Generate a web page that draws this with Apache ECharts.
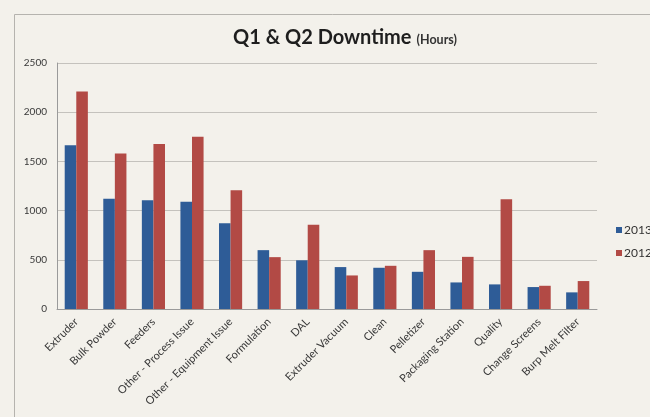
<!DOCTYPE html>
<html>
<head>
<meta charset="utf-8">
<script src="https://cdn.jsdelivr.net/npm/echarts@6/dist/echarts.min.js"></script>
<style>
html,body{margin:0;padding:0;background:#f3f1eb;}
#chart{width:650px;height:417px;}
</style>
</head>
<body>
<div id="chart"></div>
<script>
const categories = ["Extruder","Bulk Powder","Feeders","Other - Process Issue","Other - Equipment Issue","Formulation","DAL","Extruder Vacuum","Clean","Pelletizer","Packaging Station","Quality","Change Screens","Burp Melt Filter"];
const values2013 = [1665,1120,1105,1090,872,598,495,426,419,378,270,250,223,169];
const values2012 = [2210,1580,1678,1750,1206,527,855,341,439,598,530,1115,236,284];
const yTicks = [0,500,1000,1500,2000,2500];

const chart = echarts.init(document.getElementById('chart'), null, {renderer:'canvas'});
chart.setOption({
  backgroundColor: '#f3f1eb',
  animation: false,
  graphic: [{
    type: 'rect', left: 12, top: 12,
    shape: {width: 700, height: 500},
    style: {fill: 'none', stroke: '#b5b3ae', lineWidth: 1}
  }],
  title: {
    text: '{a|Q1 & Q2 Downtime} {b|(Hours)}',
    left: 340, textAlign: 'center', top: 23,
    textStyle: {
      rich: {
        a: {fontFamily: 'Lato', fontWeight: 'bold', fontSize: 20, color: '#1e1e1e'},
        b: {fontFamily: 'Lato', fontSize: 12.5, color: '#333', padding: [4,0,0,0]}
      }
    }
  },
  legend: {
    orient: 'vertical', left: 611, top: 219,
    itemWidth: 6, itemHeight: 6, itemGap: 11, icon: 'rect',
    textStyle: {fontFamily: 'Lato', fontSize: 12, color: '#333', padding: [0,0,0,-3]},
    data: ['2013','2012']
  },
  grid: {left: 57, right: 53, top: 63, bottom: 108, containLabel: false},
  xAxis: {
    type: 'category', data: categories,
    axisLine: {lineStyle: {color: '#9a9a9a'}},
    axisTick: {show: false},
    axisLabel: {rotate: 45, interval: 0, fontFamily: 'Lato', fontSize: 11, color: '#383838', margin: 11}
  },
  yAxis: {
    type: 'value', min: yTicks[0], max: yTicks[yTicks.length-1], interval: 500,
    axisLine: {show: true, lineStyle: {color: '#9a9a9a'}},
    axisTick: {show: false},
    axisLabel: {fontFamily: 'Lato', fontSize: 10, color: '#383838', margin: 10, formatter: v => String(v)},
    splitLine: {lineStyle: {color: '#c4c2bd'}}
  },
  series: [
    {name: '2013', type: 'bar', data: values2013, barGap: '0%', barCategoryGap: '40%',
     itemStyle: {color: '#2e5c97'}},
    {name: '2012', type: 'bar', data: values2012,
     itemStyle: {color: '#b24a45'}}
  ]
});
</script>
</body>
</html>
